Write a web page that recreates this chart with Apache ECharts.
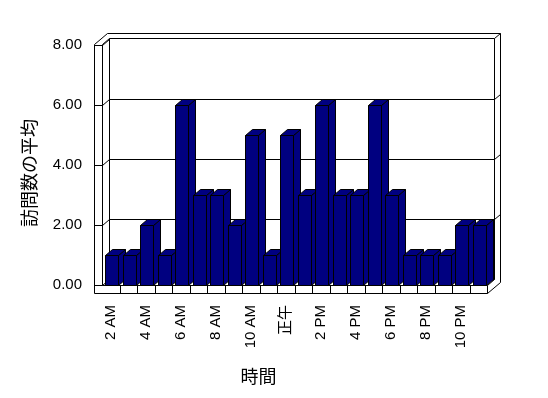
<!DOCTYPE html>
<html>
<head>
<meta charset="utf-8">
<script src="https://cdn.jsdelivr.net/npm/echarts@6/dist/echarts.min.js"></script>
<style>
html,body{margin:0;padding:0;background:#fff;}
#chart{width:548px;height:398px;}
</style>
</head>
<body>
<div id="chart"></div>
<script>
const categories = ['2 AM','3 AM','4 AM','5 AM','6 AM','7 AM','8 AM','9 AM','10 AM','11 AM','正午',
  '1 PM','2 PM','3 PM','4 PM','5 PM','6 PM','7 PM','8 PM','9 PM','10 PM','11 PM'];
const visits = [1,1,2,1,6,3,3,2,5,1,5,3,6,3,3,6,3,1,1,1,2,2];
const yTicks = [0,2,4,6,8];
const xTitle = '時間';
const yTitle = '訪問数の平均';

const DX = 7, DY = -6;     // depth offset of back plane
const OX = 13, OY = -11;   // outer edge of back wall slab
const WALL = 8, FLOOR = 8;
const LS = {stroke:'#000', lineWidth:1, fill:null};
const p = v => Math.round(v) + 0.5;
function ln(x1,y1,x2,y2){ return {type:'line', shape:{x1:p(x1),y1:p(y1),x2:p(x2),y2:p(y2)}, style:LS}; }

function renderFrame(params, api){
  const cs = params.coordSys;
  const L = cs.x, R = cs.x + cs.width, T = cs.y, B = cs.y + cs.height;
  const band = api.size([1,0])[0];
  const Tt = T - 1;
  const ch = [];
  ch.push({type:'polygon', shape:{points:[
    [p(L-WALL),p(Tt)],[p(L-WALL+OX),p(Tt+OY)],[p(R+OX),p(Tt+OY)],[p(R+OX),p(B+FLOOR+OY)],
    [p(R),p(B+FLOOR)],[p(L-WALL),p(B+FLOOR)]]}, style:{fill:'#fff',stroke:'#000',lineWidth:1}});
  ch.push({type:'rect', shape:{x:p(L+DX), y:p(Tt+DY), width:Math.round(R-L), height:Math.round(B-Tt)}, style:{fill:'#fff',stroke:'#000',lineWidth:1}});
  ch.push(ln(L,Tt,L,B));
  ch.push(ln(L,Tt,L+DX,Tt+DY));
  ch.push(ln(R+DX,Tt+DY,R+OX,Tt+OY));
  ch.push(ln(L,B,R,B));
  ch.push(ln(R,B,R,B+FLOOR));
  ch.push(ln(R,B,R+DX,B+DY));
  for (let i = 1; i < categories.length; i++) {
    const x = L + i*band;
    ch.push(ln(x,B,x,B+FLOOR));
  }
  yTicks.forEach(v => {
    const y = api.coord([0, v])[1];
    ch.push(ln(L-WALL,y,L,y));
    ch.push(ln(L,y,L+DX,y+DY));
    if (v > 0 && v < 8) {
      ch.push(ln(L+DX,y+DY,R+DX,y+DY));
      ch.push(ln(R+DX,y+DY,R+OX,y+DY-5));
    }
  });
  return {type:'group', children:ch};
}

function renderBar(params, api){
  const i = api.value(0), v = api.value(1);
  const top = api.coord([i, v]);
  const base = api.coord([i, 0]);
  const band = api.size([1,0])[0];
  const x0 = p(top[0] - band/2 + 3);
  const w = Math.round(band*0.77);
  const x1 = x0 + w;
  const yt = p(top[1]), yb = p(base[1]);
  const st = {fill:'#000080', stroke:'#000', lineWidth:1};
  return {type:'group', children:[
    {type:'polygon', shape:{points:[[x1,yt],[x1+DX,yt+DY],[x1+DX,yb+DY],[x1,yb]]}, style:st},
    {type:'polygon', shape:{points:[[x0,yt],[x1,yt],[x1+DX,yt+DY],[x0+DX,yt+DY]]}, style:st},
    {type:'rect', shape:{x:x0, y:yt, width:w, height:yb-yt}, style:st}
  ]};
}

const chart = echarts.init(document.getElementById('chart'), null, {renderer:'canvas'});
chart.setOption({
  backgroundColor:'#fff',
  animation:false,
  grid:{left:102, right:61, top:45, bottom:113},
  xAxis:{
    type:'category', data:categories,
    axisLine:{show:false}, axisTick:{show:false},
    axisLabel:{interval:1, rotate:90, margin:20, color:'#000', fontSize:15, fontFamily:'Liberation Sans, Arial, Noto Sans CJK JP, sans-serif'},
    name:xTitle, nameLocation:'middle', nameGap:82,
    nameTextStyle:{color:'#000', fontSize:18, fontFamily:'Noto Sans CJK JP, sans-serif', padding:[0,72,0,0]}
  },
  yAxis:{
    type:'value', min:0, max:8, interval:2,
    axisLine:{show:false}, axisTick:{show:false}, splitLine:{show:false},
    axisLabel:{margin:20, color:'#000', fontSize:15, fontFamily:'Liberation Sans, Arial, sans-serif', formatter:v=>v.toFixed(2)},
    name:yTitle, nameLocation:'middle', nameGap:64,
    nameTextStyle:{color:'#000', fontSize:18, fontFamily:'Noto Sans CJK JP, sans-serif', padding:[0,16,0,0]}
  },
  series:[
    {type:'custom', z:1, data:[[0,0]], renderItem:renderFrame, silent:true},
    {type:'custom', z:2, data:visits.map((v,i)=>[i,v]), encode:{x:0,y:1}, renderItem:renderBar}
  ]
});
</script>
</body>
</html>
